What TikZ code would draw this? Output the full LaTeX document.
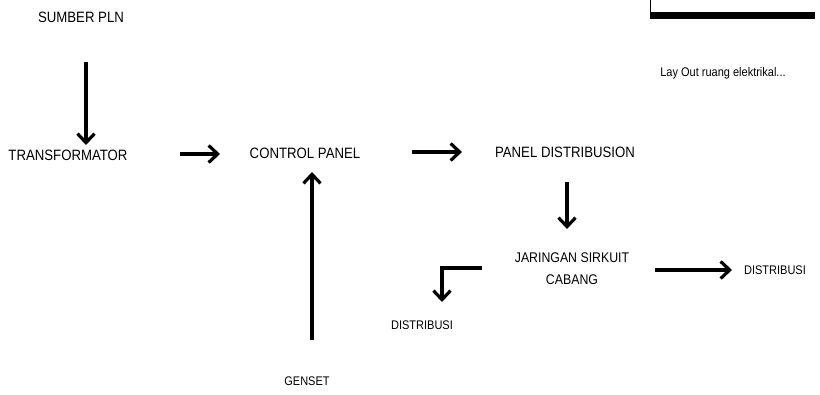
\documentclass[tikz,border=0pt]{standalone}
\usepackage{fontspec}
\usepackage{graphicx}
\setmainfont{Liberation Sans}
\usetikzlibrary{arrows.meta}
\newcommand\nar[1]{\scalebox{0.88}[1]{#1}}
\begin{document}
\begin{tikzpicture}[x=1pt,y=-1pt,
  lbl/.style={inner sep=0pt,font=\fontsize{15}{17}\selectfont},
  lblsm/.style={inner sep=0pt,font=\fontsize{12.5}{14}\selectfont},
  arr/.style={line width=3.2pt,-{Straight Barb[length=9pt,width=17pt,line width=3.2pt]}}]
\useasboundingbox (0,0) rectangle (820,394);
% top-right frame fragment
\draw[line width=1pt] (650,0) -- (650,16);
\fill (650,12) rectangle (815,19);
\node[inner sep=0pt,font=\fontsize{12.5}{14}\selectfont] (cap) at (723,73) {\nar{Lay Out ruang elektrikal...}};
% nodes
\node[lbl] (pln) at (81,17) {\nar{SUMBER PLN}};
\node[lbl] (trf) at (68,155) {\nar{TRANSFORMATOR}};
\node[lbl] (cp) at (305,153) {\nar{CONTROL PANEL}};
\node[lbl] (pd) at (565,152) {\nar{PANEL DISTRIBUSION}};
\node[lbl,font=\fontsize{14}{22}\selectfont,align=center] (jsc) at (572,269) {\nar{JARINGAN SIRKUIT}\\\nar{CABANG}};
\node[lblsm] (d1) at (422,325) {\nar{DISTRIBUSI}};
\node[lblsm] (d2) at (775,270) {\nar{DISTRIBUSI}};
\node[lblsm] (gen) at (307,381) {\nar{GENSET}};
% connectors
\coordinate (a1s) at (86,62);
\coordinate (a1e) at (86,145);
\draw[arr] (a1s) -- (a1e);
\coordinate (a2s) at (180,154);
\coordinate (a2e) at (220,154);
\draw[arr] (a2s) -- (a2e);
\coordinate (a3s) at (412,152);
\coordinate (a3e) at (462,152);
\draw[arr] (a3s) -- (a3e);
\coordinate (a4s) at (567,182);
\coordinate (a4e) at (567,229);
\draw[arr] (a4s) -- (a4e);
\coordinate (a5s) at (655,270);
\coordinate (a5e) at (732,270);
\draw[arr] (a5s) -- (a5e);
\coordinate (a6s) at (312,340);
\coordinate (a6e) at (312,172);
\draw[arr] (a6s) -- (a6e);
\coordinate (e1) at (482,268);
\coordinate (e2) at (442,268);
\coordinate (e3) at (442,302);
\draw[arr] (e1) -- (e2) -- (e3);
\end{tikzpicture}
\end{document}
